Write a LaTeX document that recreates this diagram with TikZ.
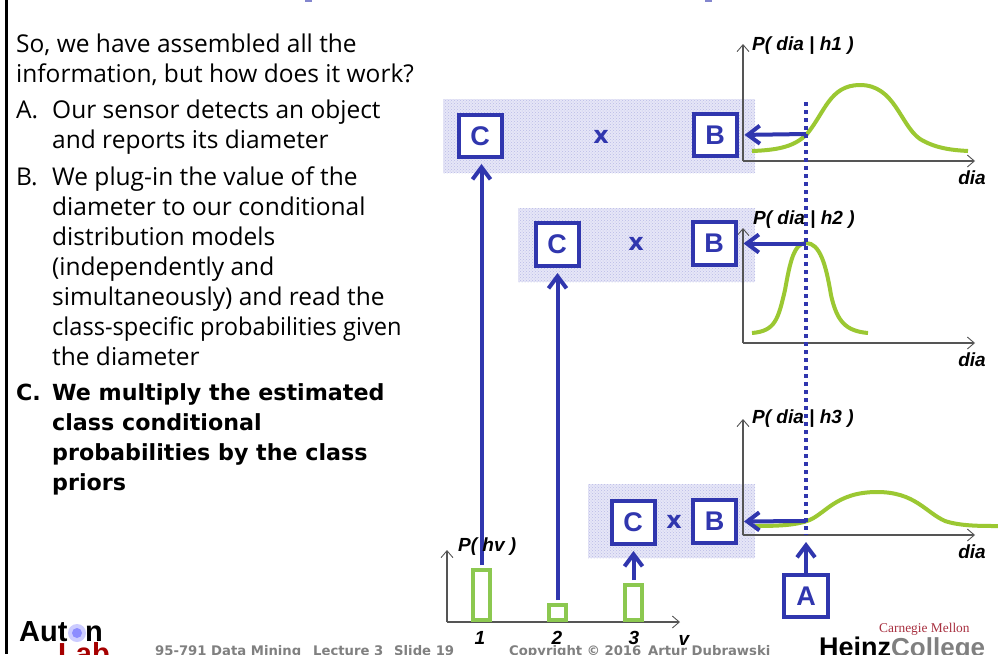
\documentclass[tikz,border=0pt]{standalone}
\usepackage{fontspec}
\setmainfont{Open Sans}
\newfontfamily\arialf{Liberation Sans}
\newfontfamily\timesf{Liberation Serif}
\newfontfamily\footf{DejaVu Sans}
\usetikzlibrary{arrows.meta,patterns}
\definecolor{navy}{HTML}{3036AE}
\definecolor{leaf}{HTML}{9BC832}
\definecolor{barg}{HTML}{8CC850}
\definecolor{shade}{HTML}{E6E6F7}
\definecolor{shadedot}{HTML}{B9BBE6}
\definecolor{foot}{HTML}{808080}
\definecolor{axisg}{HTML}{555555}
\definecolor{cmured}{HTML}{A83040}
\tikzset{
  body/.style={anchor=base west,inner sep=0pt,font=\fontsize{24.5}{27}\selectfont,text=black},
  bodyb/.style={body,font=\footf\bfseries\fontsize{22.2}{27}\selectfont},
  boxn/.style={draw=navy,line width=4pt,fill=white,minimum width=43pt,minimum height=43pt,inner sep=0pt,text=navy,font=\arialf\bfseries\fontsize{27}{28}\selectfont},
  times/.style={text=navy,inner sep=0pt,font=\footf\bfseries\fontsize{24}{28}\selectfont},
  shadebox/.style={fill=shade,draw=none,postaction={pattern=crosshatch dots,pattern color=shadedot}},
  axisline/.style={draw=axisg,line width=1.1pt,-{Straight Barb[length=7pt,width=12pt,line width=0.9pt]}},
  curve/.style={draw=leaf,line width=4pt},
  conn/.style={draw=navy,line width=4pt,-{Straight Barb[length=12pt,width=18pt,line width=4pt]}},
  probe/.style={draw=navy,line width=4.5pt,dash pattern=on 4pt off 4pt},
  bar/.style={draw=barg,line width=4pt,fill=white,inner sep=0pt,minimum width=17.5pt},
  axl/.style={inner sep=0pt,text=black,font=\arialf\bfseries\itshape\fontsize{19}{20}\selectfont},
  footer/.style={inner sep=0pt,anchor=base west,text=foot,font=\footf\bfseries\fontsize{13.2}{15}\selectfont},
  logo/.style={inner sep=0pt,anchor=base west,font=\arialf\bfseries\fontsize{29}{30}\selectfont}
}
\begin{document}
\begin{tikzpicture}[x=1pt,y=-1pt]
\useasboundingbox (0,0) rectangle (998,654);
\clip (0,0) rectangle (998,654);
\fill[white] (0,0) rectangle (998,654);
\draw[black,line width=3pt] (6,0) -- (6,654);
\fill[navy!60!white] (305,0) rectangle (312,1.5);
\fill[navy!60!white] (705,0) rectangle (712,1.5);
% body text
\node[body] (t1) at (16,52) {So, we have assembled all the};
\node[body] (t2) at (16,82) {information, but how does it work?};
\node[body] (t3) at (16,118) {A.};
\node[body] (t4) at (52,118) {Our sensor detects an object};
\node[body] (t5) at (52,148) {and reports its diameter};
\node[body] (t6) at (16,185) {B.};
\node[body] (t7) at (52,185) {We plug-in the value of the};
\node[body] (t8) at (52,215) {diameter to our conditional};
\node[body] (t9) at (52,245) {distribution models};
\node[body] (t10) at (52,275) {(independently and};
\node[body] (t11) at (52,305) {simultaneously) and read the};
\node[body,xscale=.964,transform shape] (t12) at (52,335) {class-specific probabilities given};
\node[body] (t13) at (52,365) {the diameter};
\node[bodyb] (t14) at (16,400) {C.};
\node[bodyb] (t15) at (52,400) {We multiply the estimated};
\node[bodyb] (t16) at (52,430) {class conditional};
\node[bodyb] (t17) at (52,460) {probabilities by the class};
\node[bodyb] (t18) at (52,490) {priors};
% shaded bands
\fill[shadebox] (443,99) rectangle (755,173);
\fill[shadebox] (518,208) rectangle (755,282);
\fill[shadebox] (588,484) rectangle (755,558);
% axes
\coordinate (o1) at (743,161); \coordinate (y1) at (743,44); \coordinate (x1) at (975,161);
\coordinate (o2) at (743,343); \coordinate (y2) at (743,228); \coordinate (x2) at (975,343);
\coordinate (o3) at (743,535); \coordinate (y3) at (743,419); \coordinate (x3) at (975,535);
\coordinate (o4) at (447,622); \coordinate (y4) at (447,550); \coordinate (x4) at (680,622);
\draw[axisline] (o1) -- (y1); \draw[axisline] (o1) -- (x1);
\draw[axisline] (o2) -- (y2); \draw[axisline] (o2) -- (x2);
\draw[axisline] (o3) -- (y3); \draw[axisline] (o3) -- (x3);
\draw[axisline] (o4) -- (y4); \draw[axisline] (o4) -- (x4);
% curves
\draw[curve] (752,151) .. controls (780,150) and (795,146) .. (807,134)
  .. controls (825,112) and (830,85) .. (860,85)
  .. controls (895,85) and (900,125) .. (920,139)
  .. controls (935,148) and (950,150) .. (968,151);
\draw[curve] (752,333) .. controls (775,331) and (778,320) .. (785,290)
  .. controls (790,262) and (794,243) .. (806,243)
  .. controls (820,243) and (826,265) .. (831,295)
  .. controls (837,322) and (846,331) .. (868,333);
\draw[curve] (755,526) .. controls (780,526) and (795,525) .. (807,521)
  .. controls (825,515) and (835,492) .. (877,492)
  .. controls (915,492) and (925,512) .. (945,521)
  .. controls (960,526) and (980,526) .. (998,526);
% probe line
\coordinate (p1) at (806,102); \coordinate (p2) at (806,535);
\draw[probe] (p1) -- (p2);
% boxes
\node[boxn,minimum height=42pt] (c1) at (480,136) {C};
\node[boxn,minimum height=42pt] (b1) at (715,135) {B};
\node[times] (x1t) at (601,137) {x};
\node[boxn] (c2) at (557,244.5) {C};
\node[boxn] (b2) at (714,243.5) {B};
\node[times] (x2t) at (636,244) {x};
\node[boxn] (c3) at (633,522.5) {C};
\node[boxn] (b3) at (714.5,521.5) {B};
\node[times] (x3t) at (674,522) {x};
\node[boxn,minimum width=44pt,minimum height=42pt] (a) at (806,596) {A};
% bars
\node[bar,minimum height=50pt] (h1) at (481.5,595) {};
\node[bar,minimum height=15pt] (h2) at (557.5,612.5) {};
\node[bar,minimum height=35pt] (h3) at (633.5,602.5) {};
% connectors
\coordinate (s1) at (806,134); \coordinate (s2) at (806,243.5); \coordinate (s3) at (806,521);
\draw[conn,shorten >=6pt] (s1) -- (b1.east);
\draw[conn,shorten >=6pt] (s2) -- (b2.east);
\draw[conn,shorten >=6pt] (s3) -- (b3.east);
\draw[conn,shorten <=3pt,shorten >=5pt] (h1.north) -- (h1.north |- c1.south);
\draw[conn,shorten <=3pt,shorten >=5pt] (h2.north) -- (h2.north |- c2.south);
\draw[conn,shorten <=3pt,shorten >=5pt] (h3.north) -- (h3.north |- c3.south);
\draw[conn] (a.north) -- (806,542);
% axis labels
\node[axl,anchor=west] (l1) at (752,46) {P( dia | h1 )};
\node[axl,anchor=west] (l2) at (753,220) {P( dia | h2 )};
\node[axl,anchor=west] (l3) at (752,419) {P( dia | h3 )};
\node[axl,anchor=west] (l4) at (458,547) {P( hv )};
\node[axl] (d1) at (972,178) {dia};
\node[axl] (d2) at (972,360) {dia};
\node[axl] (d3) at (972,552) {dia};
\node[axl] (n1) at (480,638) {1};
\node[axl] (n2) at (557,638) {2};
\node[axl] (n3) at (634,638) {3};
\node[axl] (nv) at (684,640) {v};
% footer
\node[footer] (f1) at (155,655) {95-791 Data Mining};
\node[footer] (f2) at (313,655) {Lecture 3};
\node[footer] (f3) at (394,655) {Slide 19};
\node[footer] (f4) at (509,655) {Copyright © 2016};
\node[footer] (f5) at (648,655) {Artur Dubrawski};
% logos
\node[logo,text=black] (aut) at (19,641) {Aut\phantom{o}n};
\node[logo,text=red!65!black] (lab) at (58,663) {Lab};
\fill[blue!20!white] (77,633) circle (9pt);
\fill[blue!45!white] (77,633) circle (5pt);
\node[inner sep=0pt,anchor=base west,text=cmured,font=\timesf\fontsize{13.4}{16}\selectfont] (cmu) at (879,632) {Carnegie Mellon};
\node[inner sep=0pt,anchor=base west,text=black,font=\arialf\bfseries\fontsize{27}{30}\selectfont] (hz) at (819,656) {Heinz};
\node[inner sep=0pt,anchor=base west,text=foot,font=\arialf\bfseries\fontsize{26}{30}\selectfont] (col) at (891,656) {College};
\end{tikzpicture}
\end{document}
